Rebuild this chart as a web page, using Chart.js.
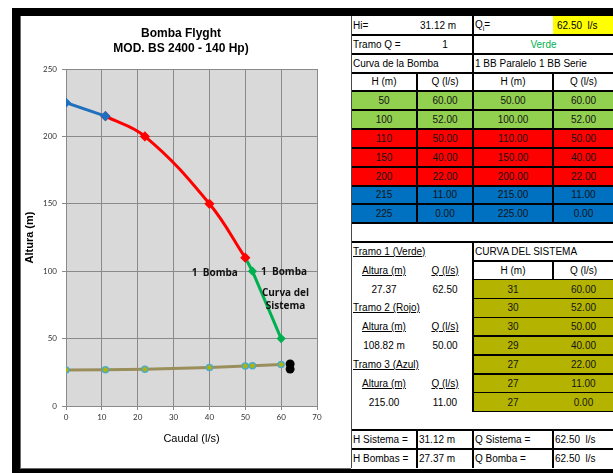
<!DOCTYPE html>
<html>
<head>
<meta charset="utf-8">
<script src="https://cdn.jsdelivr.net/npm/chart.js@4/dist/chart.umd.min.js"></script>
<style>
  html, body { margin: 0; padding: 0; background: #fff; width: 613px; height: 473px; overflow: hidden;
               font-family: "Liberation Sans", Arial, sans-serif; }
  .bar { position: absolute; background: #000; }
  #panel { position: absolute; left: 20px; top: 16px; width: 331px; height: 453px; box-sizing: border-box;
           border-left: 1px solid #6a6a6a; border-bottom: 1px solid #6a6a6a; }
  #chartBox { position: absolute; left: 21px; top: 16px; width: 330px; height: 452px; }
  #sheet { position: absolute; left: 351px; top: 16px; width: 262px; height: 453px; overflow: hidden; }
  .c { position: absolute; display: flex; align-items: center; box-sizing: border-box; font-size: 10px;
       white-space: nowrap; color: #000; }
  .c.l { justify-content: flex-start; padding-left: 3px; }
  .c.m { justify-content: center; }
  .u { text-decoration: underline; }
  .ln { position: absolute; background: #000; }
</style>
</head>
<body>
<div class="bar" style="left:12px;top:8px;width:601px;height:8px"></div>
<div class="bar" style="left:12px;top:8px;width:8px;height:465px"></div>
<div class="bar" style="left:12px;top:469px;width:601px;height:4px"></div>
<div id="panel"></div>
<div id="chartBox"><canvas id="chart" width="330" height="452"></canvas></div>
<div id="sheet"></div>

<script>
// Pump curve (Curva de la Bomba)
const pumpH = [50, 100, 110, 150, 200, 215, 225];
const pumpQ = [60, 52, 50, 40, 22, 11, 0];
// 1 BB Paralelo 1 BB Serie
const combH = [50, 100, 110, 150, 200, 215, 225];
const combQ = [60, 52, 50, 40, 22, 11, 0];
// Curva del sistema
const systemH = [30.8, 29.8, 29.6, 28.6, 27.3, 26.8, 26.7];
const systemQ = [60, 52, 50, 40, 22, 11, 0];
// Row colour groups of the pump table: green, red, blue
const rowGroup = ['g', 'g', 'r', 'r', 'r', 'b', 'b'];
// Operating point
const hSistema = 31.12, qSistema = 62.5;
const hBombas = 27.37, qBomba = 62.5;
const tramoNames = ['Tramo 1 (Verde)', 'Tramo 2 (Rojo)', 'Tramo 3 (Azul)'];
const tramoH = ['27.37', '108.82 m', '215.00'];
const tramoQ = [62.5, 50, 11];
// Axis ticks
const xTicks = [0, 10, 20, 30, 40, 50, 60, 70];
const yTicks = [0, 50, 100, 150, 200, 250];

const titleLines = ['Bomba Flyght', 'MOD. BS 2400 - 140 Hp)'];
const notes = [
  { text: '1  Bomba', q: 41.5, h: 98.5 },
  { text: '1  Bomba', q: 60.8, h: 99.3 },
  { text: 'Curva del', q: 61.2, h: 83.7 },
  { text: 'Sistema', q: 61.2, h: 74.0 }
];

const GREEN = '#00B050', RED = '#FF0000', BLUE = '#1F6FBF';

function pts(qs, hs, a, b) {
  const out = [];
  for (let i = a; i <= b; i++) out.push({ x: qs[i], y: hs[i] });
  return out;
}

const plotBg = {
  id: 'plotBg',
  beforeDraw(chart) {
    const { ctx, chartArea: a } = chart;
    ctx.save();
    ctx.fillStyle = '#D9D9D9';
    ctx.fillRect(a.left, a.top, a.right - a.left, a.bottom - a.top);
    ctx.restore();
  },
  afterDraw(chart) {
    const { ctx, scales: { x, y } } = chart;
    ctx.save();
    ctx.fillStyle = '#000';
    ctx.textAlign = 'center';
    ctx.textBaseline = 'middle';
    ctx.font = 'bold 12px "Liberation Sans", Arial, sans-serif';
    ctx.fillText(titleLines[0], 160, 18);
    ctx.fillText(titleLines[1], 160, 33);
    ctx.font = 'bold 10px "Open Sans", Lato, sans-serif';
    ctx.fillStyle = '#111';
    notes.forEach(n => ctx.fillText(n.text, x.getPixelForValue(n.q), y.getPixelForValue(n.h)));
    ctx.restore();
  }
};

const tickFont = { family: 'Lato, "Liberation Sans", sans-serif', size: 8 };

new Chart(document.getElementById('chart'), {
  type: 'scatter',
  data: {
    datasets: [
      { data: [{ x: qSistema, y: hSistema }, { x: qBomba, y: hBombas }], showLine: false,
        pointRadius: 4.5, pointBackgroundColor: '#000', pointBorderColor: '#000', pointBorderWidth: 0 },
      { data: pts(combQ, combH, 5, 6), showLine: true, borderColor: BLUE, borderWidth: 3,
        pointStyle: 'rectRot', pointRadius: 3, pointBackgroundColor: BLUE, pointBorderColor: BLUE },
      { data: pts(combQ, combH, 2, 5), showLine: true, borderColor: RED, borderWidth: 3, tension: 0.4,
        pointStyle: 'rectRot', pointRadius: 3, pointBackgroundColor: RED, pointBorderColor: RED },
      { data: pts(combQ, combH, 0, 2), showLine: true, borderColor: GREEN, borderWidth: 3,
        pointStyle: 'rectRot', pointRadius: 2.5, pointBackgroundColor: GREEN, pointBorderColor: GREEN },
      { data: pts(systemQ, systemH, 0, systemQ.length - 1), showLine: true, borderColor: '#9A8F5C',
        borderWidth: 3, pointRadius: 3, pointBackgroundColor: '#B3B300', pointBorderColor: '#4BACC6',
        pointBorderWidth: 1.5 }
    ]
  },
  options: {
    responsive: false,
    animation: false,
    events: [],
    layout: { padding: { top: 53, right: 34, left: 0, bottom: 0 } },
    plugins: { legend: { display: false }, tooltip: { enabled: false } },
    scales: {
      x: {
        type: 'linear', min: xTicks[0], max: xTicks[xTicks.length - 1],
        afterBuildTicks: s => { s.ticks = xTicks.map(v => ({ value: v })); },
        afterFit: s => { s.height = 62; },
        ticks: { font: tickFont, color: '#333', padding: 3, maxRotation: 0 },
        grid: { color: '#8A8A8A', lineWidth: 1, tickLength: 4, tickColor: '#8A8A8A' },
        border: { color: '#8A8A8A' },
        title: { display: true, text: 'Caudal (l/s)', color: '#000',
                 font: { family: '"Liberation Sans", Arial, sans-serif', size: 11 },
                 padding: { top: 0, bottom: 22 } }
      },
      y: {
        type: 'linear', min: yTicks[0], max: yTicks[yTicks.length - 1],
        afterBuildTicks: s => { s.ticks = yTicks.map(v => ({ value: v })); },
        afterFit: s => { s.width = 45; },
        ticks: { font: tickFont, color: '#333', padding: 5 },
        grid: { color: '#8A8A8A', lineWidth: 1, tickLength: 4, tickColor: '#8A8A8A' },
        border: { color: '#8A8A8A' },
        title: { display: true, text: 'Altura (m)', color: '#000',
                 font: { family: '"Liberation Sans", Arial, sans-serif', size: 11, weight: 'bold' },
                 padding: { top: 2, bottom: 0 } }
      }
    }
  },
  plugins: [plotBg]
});

// ---- worksheet beside the chart ----
const sheet = document.getElementById('sheet');
const RH = 452 / 24;
const COLS = [0, 66, 122, 202, 263];
const FILL = { g: '#92D050', r: '#FF0000', b: '#0070C0' };

function cell(r, c0, c1, text, o = {}) {
  const d = document.createElement('div');
  d.className = 'c ' + (o.left ? 'l' : 'm');
  d.style.left = COLS[c0] + 'px';
  d.style.width = (COLS[c1] - COLS[c0]) + 'px';
  d.style.top = (r * RH) + 'px';
  d.style.height = RH + 'px';
  if (o.bg) d.style.background = o.bg;
  if (o.color) d.style.color = o.color;
  if (o.pad !== undefined) d.style.paddingLeft = o.pad + 'px';
  const s = document.createElement('span');
  if (o.u) s.className = 'u';
  if (o.html) s.innerHTML = text; else s.textContent = text;
  d.appendChild(s);
  sheet.appendChild(d);
}
function hline(r, c0, c1, w = 2, col = '#000') {
  const d = document.createElement('div');
  d.className = 'ln';
  d.style.left = COLS[c0] + 'px';
  d.style.width = (COLS[c1] - COLS[c0]) + 'px';
  d.style.top = (r * RH - w / 2) + 'px';
  d.style.height = w + 'px';
  d.style.background = col;
  sheet.appendChild(d);
}
function vline(c, r0, r1, w = 2, col = '#000') {
  const d = document.createElement('div');
  d.className = 'ln';
  d.style.left = (COLS[c] - w / 2) + 'px';
  d.style.width = w + 'px';
  d.style.top = (r0 * RH) + 'px';
  d.style.height = ((r1 - r0) * RH) + 'px';
  d.style.background = col;
  sheet.appendChild(d);
}
const f2 = v => v.toFixed(2);

// header block
cell(0, 0, 1, 'Hi=', { left: true, pad: 2 });
cell(0, 1, 2, f2(hSistema) + ' m', { left: true });
cell(0, 2, 3, 'Q<sub style="font-size:7px">i</sub>=', { left: true, pad: 2, html: true });
cell(0, 3, 4, f2(qSistema) + '&nbsp; l/s', { left: true, pad: 4, bg: '#FFFF00', html: true });
cell(1, 0, 1, 'Tramo Q =', { left: true, pad: 2 });
cell(1, 1, 2, '1');
cell(1, 2, 4, 'Verde', { color: GREEN });
cell(2, 0, 2, 'Curva de la Bomba', { left: true, pad: 2 });
cell(2, 2, 4, '1 BB Paralelo 1 BB Serie', { left: true, pad: 2 });
cell(3, 0, 1, 'H (m)'); cell(3, 1, 2, 'Q (l/s)'); cell(3, 2, 3, 'H (m)'); cell(3, 3, 4, 'Q (l/s)');

// pump rows, listed from the lowest head upwards
pumpH.forEach((h, i) => {
  const r = 4 + i, bg = FILL[rowGroup[i]], col = '#151515';
  cell(r, 0, 1, String(h), { bg, color: col });
  cell(r, 1, 2, f2(pumpQ[i]), { bg, color: col });
  cell(r, 2, 3, f2(combH[i]), { bg, color: col });
  cell(r, 3, 4, f2(combQ[i]), { bg, color: col });
});

// tramo blocks on the left
tramoNames.forEach((name, k) => {
  const r = 12 + k * 3;
  cell(r, 0, 2, name, { left: true, pad: 2, u: true });
  cell(r + 1, 0, 1, 'Altura (m)', { u: true });
  cell(r + 1, 1, 2, 'Q (l/s)', { u: true });
  cell(r + 2, 0, 1, tramoH[k]);
  cell(r + 2, 1, 2, f2(tramoQ[k]));
});

// system curve on the right
cell(12, 2, 4, 'CURVA DEL SISTEMA', { left: true, pad: 2 });
cell(13, 2, 3, 'H (m)'); cell(13, 3, 4, 'Q (l/s)');
systemH.forEach((h, i) => {
  cell(14 + i, 2, 3, h.toFixed(0), { bg: '#B3B300', color: '#151515' });
  cell(14 + i, 3, 4, f2(systemQ[i]), { bg: '#B3B300', color: '#151515' });
});

// results
cell(22, 0, 1, 'H Sistema =', { left: true, pad: 2 });
cell(22, 1, 2, f2(hSistema) + ' m', { left: true, pad: 2 });
cell(22, 2, 3, 'Q Sistema =', { left: true, pad: 2 });
cell(22, 3, 4, f2(qSistema) + '&nbsp; l/s', { left: true, pad: 2, html: true });
cell(23, 0, 1, 'H Bombas =', { left: true, pad: 2 });
cell(23, 1, 2, f2(hBombas) + ' m', { left: true, pad: 2 });
cell(23, 2, 3, 'Q Bomba =', { left: true, pad: 2 });
cell(23, 3, 4, f2(qBomba) + '&nbsp; l/s', { left: true, pad: 2, html: true });

// grid lines
for (let r = 1; r <= 12; r++) hline(r, 0, 4);
for (let r = 13; r <= 21; r++) hline(r, 2, 4, r >= 14 ? 1.5 : 2);
hline(22, 0, 4); hline(23, 0, 4);
vline(2, 0, 11); vline(2, 12, 21); vline(2, 22, 24);
vline(1, 3, 11); vline(1, 22, 24);
vline(3, 3, 11); vline(3, 13, 14); vline(3, 22, 24);
vline(0, 0, 24, 2, '#4a4a4a');
</script>
</body>
</html>
